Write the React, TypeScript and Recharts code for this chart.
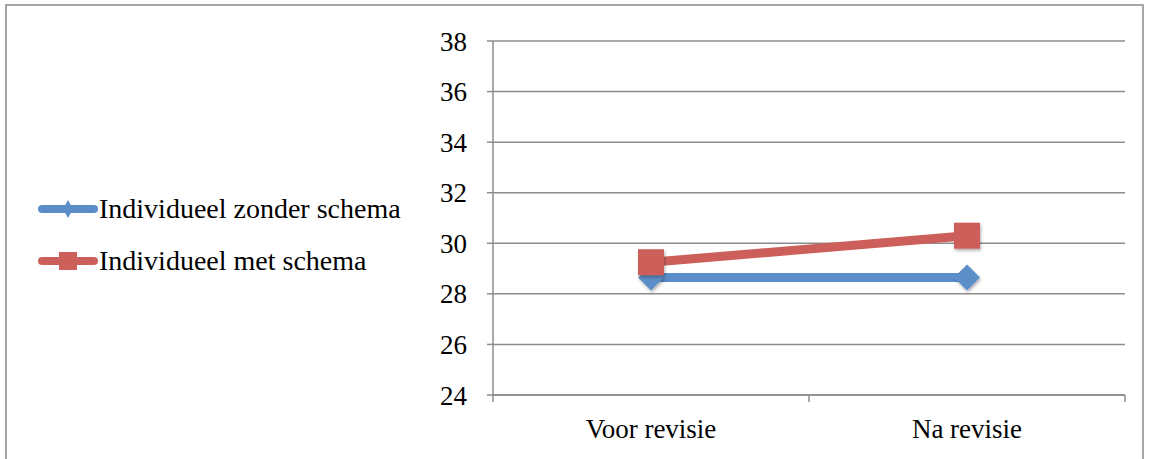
import React from "react";
import {
  CartesianGrid,
  Line,
  LineChart,
  XAxis,
  YAxis,
} from "recharts";

const categories = ["Voor revisie", "Na revisie"];
const zonderSchema = [28.65, 28.65];
const metSchema = [29.25, 30.3];
const yTicks = [24, 26, 28, 30, 32, 34, 36, 38];

const seriesNames = ["Individueel zonder schema", "Individueel met schema"];
const BLUE = "#5B8EC8";
const RED = "#CC5F5A";
const AXIS = "#8c8c8c";
const FONT = "'Liberation Serif', serif";

// category i sits in the middle of band [i, i + 1]
const data = categories.map((name, i) => ({
  name,
  pos: i + 0.5,
  zonder: zonderSchema[i],
  met: metSchema[i],
}));

function Diamond({ cx, cy, r }: { cx: number; cy: number; r: number }) {
  return (
    <path
      d={`M${cx},${cy - r} L${cx + r},${cy} L${cx},${cy + r} L${cx - r},${cy} Z`}
      fill={BLUE}
      filter="url(#markShadow)"
    />
  );
}

function Square({ cx, cy, s }: { cx: number; cy: number; s: number }) {
  return (
    <rect x={cx - s / 2} y={cy - s / 2} width={s} height={s} fill={RED} filter="url(#markShadow)" />
  );
}

// boundary tick marks on integers, category names on the halves
function XTick(props: any) {
  const { x, y, payload } = props;
  const v = payload.value as number;
  if (Number.isInteger(v)) {
    return <line x1={x} x2={x} y1={y} y2={y + 7} stroke={AXIS} strokeWidth={1.5} />;
  }
  return (
    <text x={x} y={y + 43} textAnchor="middle" fontFamily={FONT} fontSize={27} fill="#000">
      {categories[Math.floor(v)]}
    </text>
  );
}

function SeriesLegend() {
  const rows = [
    { label: seriesNames[0], color: BLUE, marker: "diamond" },
    { label: seriesNames[1], color: RED, marker: "square" },
  ];
  return (
    <div style={{ position: "absolute", left: 34, top: 183 }}>
      {rows.map((row) => (
        <div key={row.label} style={{ display: "flex", alignItems: "center", height: 52 }}>
          <svg width={65} height={24}>
            <line x1={8} x2={60} y1={12} y2={12} stroke={row.color} strokeWidth={8} strokeLinecap="round" />
            {row.marker === "diamond" ? (
              <path d="M34,3 L39,12 L34,21 L29,12 Z" fill={row.color} />
            ) : (
              <rect x={25} y={3} width={18} height={18} fill={row.color} />
            )}
          </svg>
          <span style={{ fontFamily: FONT, fontSize: 28, color: "#000", lineHeight: "28px" }}>
            {row.label}
          </span>
        </div>
      ))}
    </div>
  );
}

export default function App() {
  return (
    <div style={{ position: "relative", width: 1150, height: 459, background: "#fff", overflow: "hidden" }}>
      <style>{"body { margin: 0; }"}</style>
      <div
        style={{
          position: "absolute",
          left: 5,
          top: 4,
          width: 1139,
          height: 470,
          border: "2px solid #a6a6a6",
          boxSizing: "border-box",
        }}
      />
      <div style={{ position: "absolute", left: 0, top: 0 }}>
        <LineChart
          width={1150}
          height={459}
          data={data}
          margin={{ top: 41, right: 25, left: 0, bottom: 0 }}
        >
          <defs>
            <filter id="markShadow" x="-30%" y="-30%" width="160%" height="160%">
              <feDropShadow dx="1" dy="2" stdDeviation="1.5" floodColor="#000" floodOpacity="0.3" />
            </filter>
          </defs>
          <CartesianGrid vertical={false} stroke={AXIS} strokeWidth={1.5} />
          <XAxis
            type="number"
            dataKey="pos"
            domain={[0, 2]}
            ticks={[0, 0.5, 1, 1.5, 2]}
            interval={0}
            height={64}
            tickSize={0}
            tickMargin={0}
            tickLine={false}
            axisLine={{ stroke: AXIS, strokeWidth: 1.5 }}
            tick={<XTick />}
          />
          <YAxis
            domain={[24, 38]}
            ticks={yTicks}
            interval={0}
            width={493}
            tickSize={6}
            tickMargin={20}
            axisLine={{ stroke: AXIS, strokeWidth: 1.5 }}
            tickLine={{ stroke: AXIS, strokeWidth: 1.5 }}
            tick={{ fontFamily: FONT, fontSize: 27, fill: "#000" }}
          />
          <Line
            dataKey="zonder"
            name={seriesNames[0]}
            stroke={BLUE}
            strokeWidth={9}
            isAnimationActive={false}
            dot={(p: any) => <Diamond key={`d${p.index}`} cx={p.cx} cy={p.cy} r={13} />}
            activeDot={false}
          />
          <Line
            dataKey="met"
            name={seriesNames[1]}
            stroke={RED}
            strokeWidth={9}
            isAnimationActive={false}
            dot={(p: any) => <Square key={`s${p.index}`} cx={p.cx} cy={p.cy} s={26} />}
            activeDot={false}
          />
        </LineChart>
      </div>
      <SeriesLegend />
    </div>
  );
}
